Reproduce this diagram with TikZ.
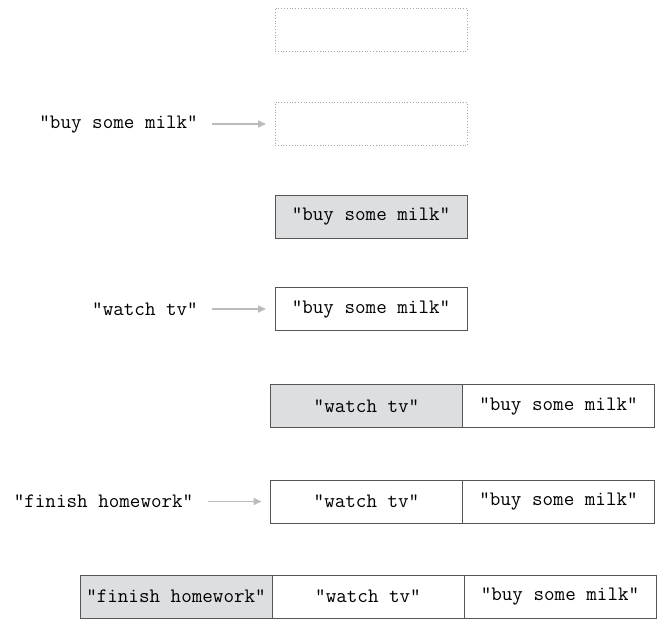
\documentclass[tikz,border=0pt]{standalone}
\usepackage{fontspec}
\usetikzlibrary{positioning,arrows.meta}
\definecolor{cellgray}{HTML}{DDDEE0}
\definecolor{arrowgray}{HTML}{BBBBBB}
\definecolor{edgegray}{HTML}{555555}

\begin{document}
\begin{tikzpicture}[x=1pt, y=-1pt,%
            cell/.style={draw=edgegray, line width=0.8pt, minimum width=192pt, minimum height=43pt, inner sep=0pt, outer sep=0pt, font=\ttfamily\fontsize{20.5}{22}\selectfont},
            head/.style={cell, fill=cellgray},
            empty/.style={cell, draw=gray!70, dotted},
            item/.style={font=\ttfamily\fontsize{20.5}{22}\selectfont, inner sep=2pt},
            arrow/.style={-{Triangle[length=8pt,width=7pt]}, draw=arrowgray, line width=1.6pt, shorten <=12pt, shorten >=9pt}
        ]
        \useasboundingbox (0,0) rectangle (669,627);

        % Empty list
        \node[empty] (empty1) at (371,29.5) {};

        % Add "buy some milk"
        \node[empty] (empty2) at (371,124) {};
        \node[item] (milk) [left=75pt of empty2] {“buy some milk”};
        \draw[arrow] (milk) -- (empty2);

        % List with one item
        \node[head] (one1) at (371,216.5) {“buy some milk”};

        % Add "watch tv"
        \node[cell] (one2) at (371,309) {“buy some milk”};
        \node[item] (tv) [left=75pt of one2] {“watch tv”};
        \draw[arrow] (tv) -- (one2);

        % List with two items
        \node[head] (two1a) at (366.5,406) {“watch tv”};
        \node[cell] (two1b) [right=0pt of two1a] {“buy some milk”};

        % Add "finish homework"
        \node[cell] (two2a) at (366.5,501.5) {“watch tv”};
        \node[cell] (two2b) [right=0pt of two2a] {“buy some milk”};
        \node[item] (hw) [left=75pt of two2a] {“finish homework”};
        \draw[arrow] (hw) -- (two2a);

        % List with three items
        \node[head] (three1) at (176,596.5) {“finish homework”};
        \node[cell] (three2) [right=0pt of three1] {“watch tv”};
        \node[cell] (three3) [right=0pt of three2] {“buy some milk”};

        \end{tikzpicture}
\end{document}
